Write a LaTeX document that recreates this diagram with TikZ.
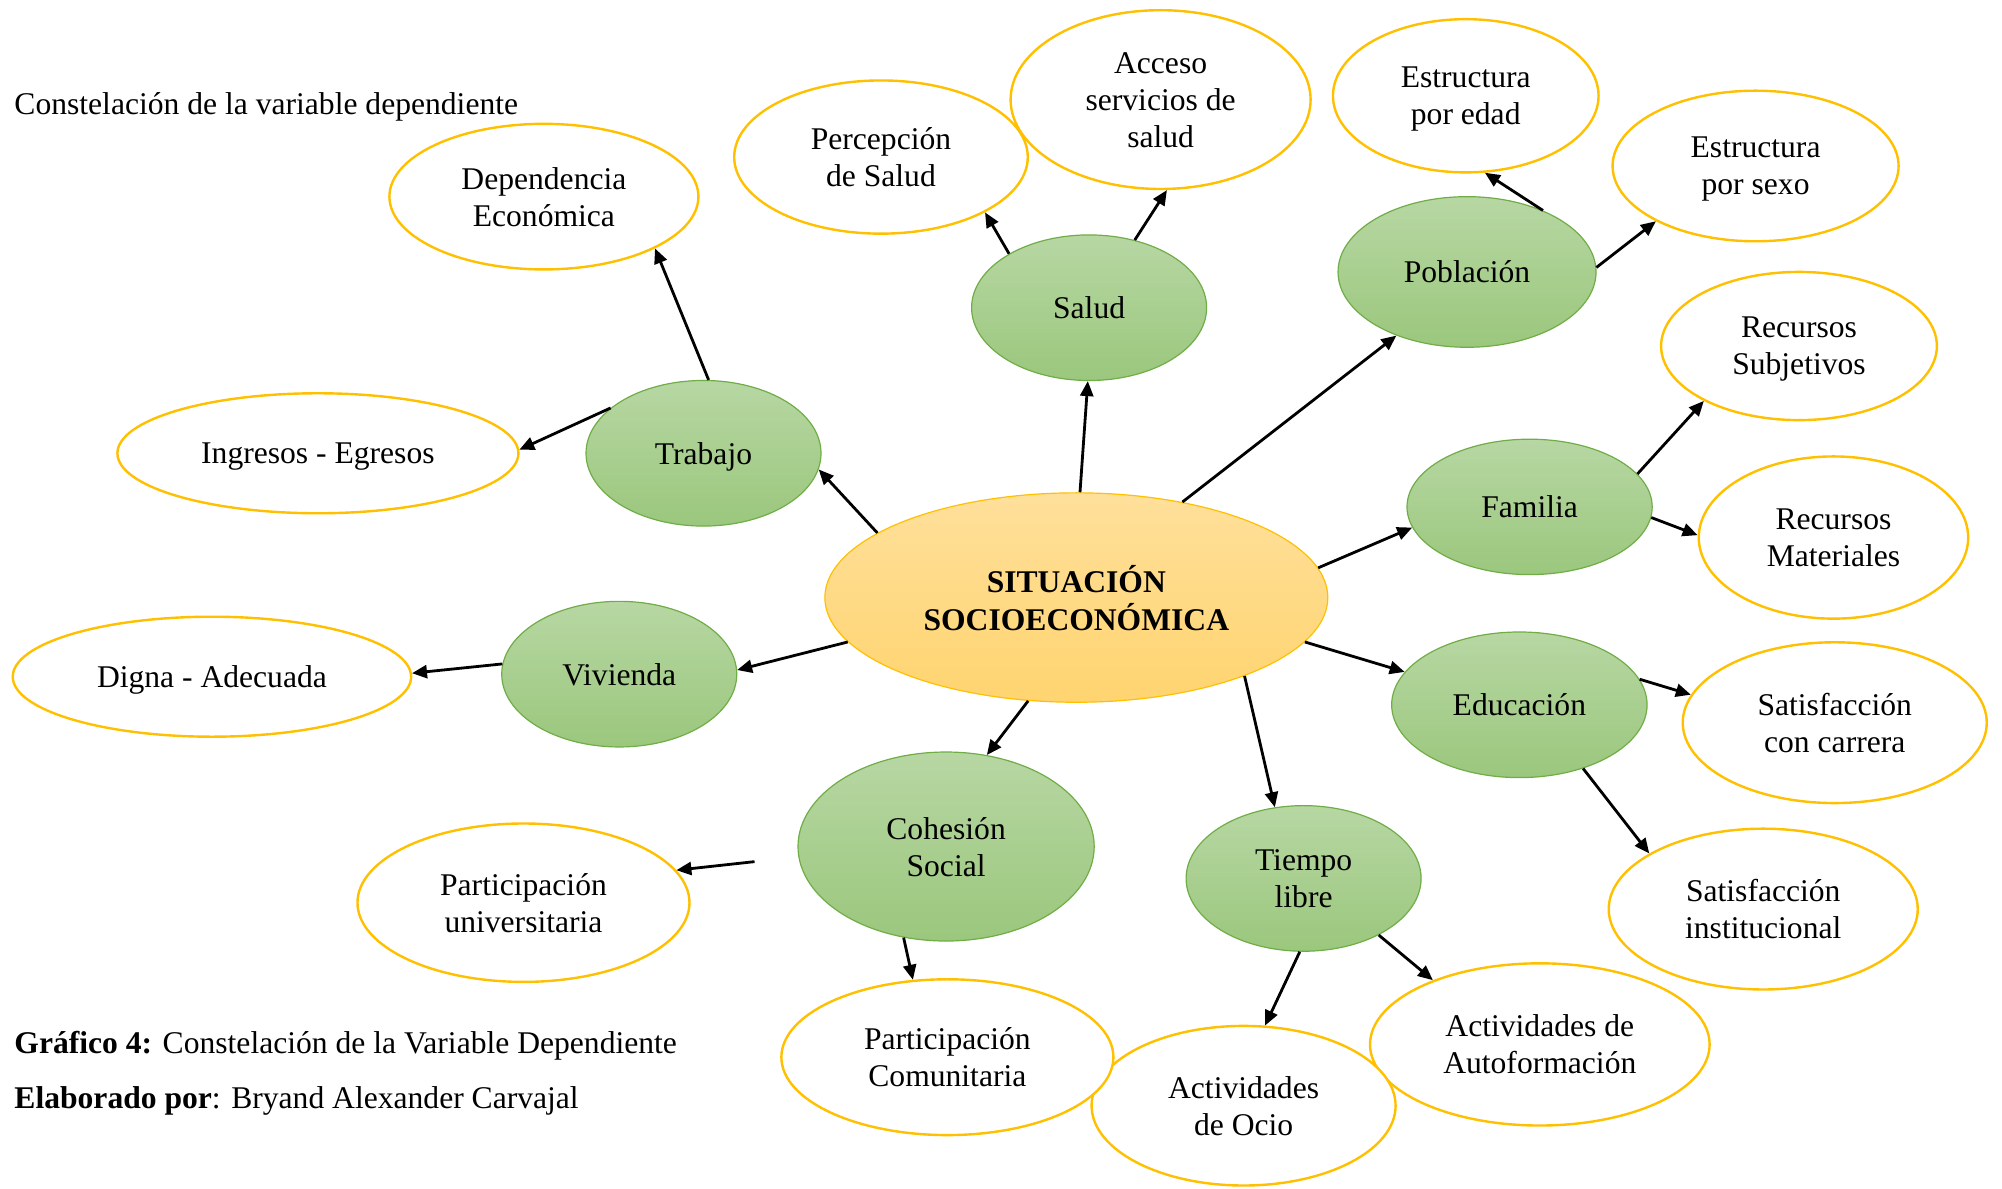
\documentclass[tikz,border=0pt]{standalone}
\usepackage{fontspec}
\setmainfont{Liberation Serif}
\usetikzlibrary{shapes.geometric,arrows.meta}

\definecolor{verdeA}{RGB}{183,215,163}
\definecolor{verdeB}{RGB}{155,199,125}
\definecolor{verdeBorde}{RGB}{112,173,71}
\definecolor{naranjaA}{RGB}{255,224,155}
\definecolor{naranjaB}{RGB}{255,212,112}
\definecolor{naranjaBorde}{RGB}{255,192,0}

\tikzset{
  nucleo/.style={ellipse, draw=naranjaBorde, line width=0.6pt, top color=naranjaA, bottom color=naranjaB, align=center, inner sep=0pt, text depth=0pt, font=\fontsize{15.8}{19}\selectfont\bfseries},
  dimension/.style={ellipse, draw=verdeBorde, line width=0.6pt, top color=verdeA, bottom color=verdeB, align=center, inner sep=0pt, text depth=0pt},
  indicador/.style={ellipse, draw=naranjaBorde, line width=1.2pt, fill=white, align=center, inner sep=0pt, text depth=0pt},
  flecha/.style={-{Triangle[length=7.5pt,width=6.5pt]}, line width=1.4pt}
}

\begin{document}
\begin{tikzpicture}[x=0.6384pt,y=0.6384pt,yscale=-1,xscale=1,font=\fontsize{15.8}{18.5}\selectfont]
\useasboundingbox (0,0) rectangle (1568,931);

%Shape: Ellipse [centro]
\node[nucleo, minimum width=251.5pt, minimum height=104.7pt] (sit) at (843,468) {SITUACIÓN\\SOCIOECONÓMICA};

%Shape: Ellipse [dimensiones]
\node[dimension, minimum width=117.5pt, minimum height=72.8pt] (trabajo) at (551,355) {Trabajo};
\node[dimension, minimum width=117.5pt, minimum height=72.8pt] (salud) at (853,241) {Salud};
\node[dimension, minimum width=129pt, minimum height=75.3pt] (poblacion) at (1149,213) {Población};
\node[dimension, minimum width=122.6pt, minimum height=67.7pt] (familia) at (1198,397) {Familia};
\node[dimension, minimum width=127.7pt, minimum height=72.8pt] (educacion) at (1190,552) {Educación};
\node[dimension, minimum width=117.5pt, minimum height=72.8pt] (tiempo) at (1021,688) {Tiempo\\libre};
\node[dimension, minimum width=148.1pt, minimum height=94.5pt] (cohesion) at (741,663) {Cohesión\\Social};
\node[dimension, minimum width=117.5pt, minimum height=72.8pt] (vivienda) at (485,528) {Vivienda};

%Shape: Ellipse [indicadores]
\node[indicador, minimum width=154.5pt, minimum height=72.8pt] (dependencia) at (426,154) {Dependencia\\Económica};
\node[indicador, minimum width=200.5pt, minimum height=60pt] (ingresos) at (249,355) {Ingresos - Egresos};
\node[indicador, minimum width=199.2pt, minimum height=60pt] (digna) at (166,530) {Digna - Adecuada};
\node[indicador, minimum width=146.8pt, minimum height=76.6pt] (percepcion) at (690,123) {Percepción\\de Salud};
\node[indicador, minimum width=150pt, minimum height=89.4pt] (acceso) at (909,78) {Acceso\\servicios de\\salud};
\node[indicador, minimum width=132.8pt, minimum height=76.6pt] (edad) at (1148,75) {Estructura\\por edad};
\node[indicador, minimum width=143pt, minimum height=75.3pt] (sexo) at (1375,130) {Estructura\\por sexo};
\node[indicador, minimum width=137.9pt, minimum height=74.1pt] (subjetivos) at (1409,271) {Recursos\\Subjetivos};
\node[indicador, minimum width=134.7pt, minimum height=81.1pt] (materiales) at (1436,421) {Recursos\\Materiales};
\node[indicador, minimum width=152pt, minimum height=80.4pt] (carrera) at (1437,566) {Satisfacción\\con carrera};
\node[indicador, minimum width=154.5pt, minimum height=80.4pt] (institucional) at (1381,712) {Satisfacción\\institucional};
\node[indicador, minimum width=169.8pt, minimum height=81.1pt] (autoformacion) at (1206,818) {Actividades de\\Autoformación};
\node[indicador, minimum width=152pt, minimum height=79.8pt] (ocio) at (974,866) {Actividades\\de Ocio};
\node[indicador, minimum width=166pt, minimum height=77.9pt] (comunitaria) at (742,828) {Participación\\Comunitaria};
\node[indicador, minimum width=166pt, minimum height=79.2pt] (universitaria) at (410,707) {Participación\\universitaria};

%Straight Lines [centro]
\draw[flecha] (sit.162) -- (trabajo.-8);
\draw[flecha] (sit.88) -- (salud.-91);
\draw[flecha] (sit.42) -- (poblacion.-138);
\draw[flecha] (sit.7) -- (familia.190);
\draw[flecha] (sit.-11) -- (educacion.164);
\draw[flecha] (sit.-25) -- (tiempo.112);
\draw[flecha] (sit.-115) -- (cohesion.66);
\draw[flecha] (sit.-169) -- (vivienda.2);

%Straight Lines [dimensiones]
\draw[flecha] (trabajo.86) -- (dependencia.-25);
\draw[flecha] (trabajo.154) -- (ingresos.1.5);
\draw[flecha] (salud.146) -- (percepcion.-28);
\draw[flecha] (salud.56) -- (acceso.-86);
\draw[flecha] (poblacion.39) -- (edad.-76);
\draw[flecha] (poblacion.2) -- (sexo.-151);
\draw[flecha] (familia.17) -- (subjetivos.-150);
\draw[flecha] (familia.-5) -- (materiales.179);
\draw[flecha] (educacion.12) -- (carrera.169);
\draw[flecha] (educacion.-45) -- (institucional.154);
\draw[flecha] (tiempo.-93) -- (ocio.75);
\draw[flecha] (tiempo.-37) -- (autoformacion.149);
\draw[flecha] (cohesion.-115) -- (comunitaria.114);
\draw[flecha, shorten <=22pt] (cohesion.184) -- (universitaria.12);
\draw[flecha] (vivienda.175) -- (digna.1);

% Text Node
\node[anchor=west, inner sep=0pt] (titulo) at (11,84) {Constelación de la variable dependiente};
% Text Node
\node[anchor=west, inner sep=0pt] (grafico) at (11,819) {\textbf{Gráfico 4:} Constelación de la Variable Dependiente};
% Text Node
\node[anchor=west, inner sep=0pt] (autor) at (11,862) {\textbf{Elaborado por}: Bryand Alexander Carvajal};

\end{tikzpicture}
\end{document}
